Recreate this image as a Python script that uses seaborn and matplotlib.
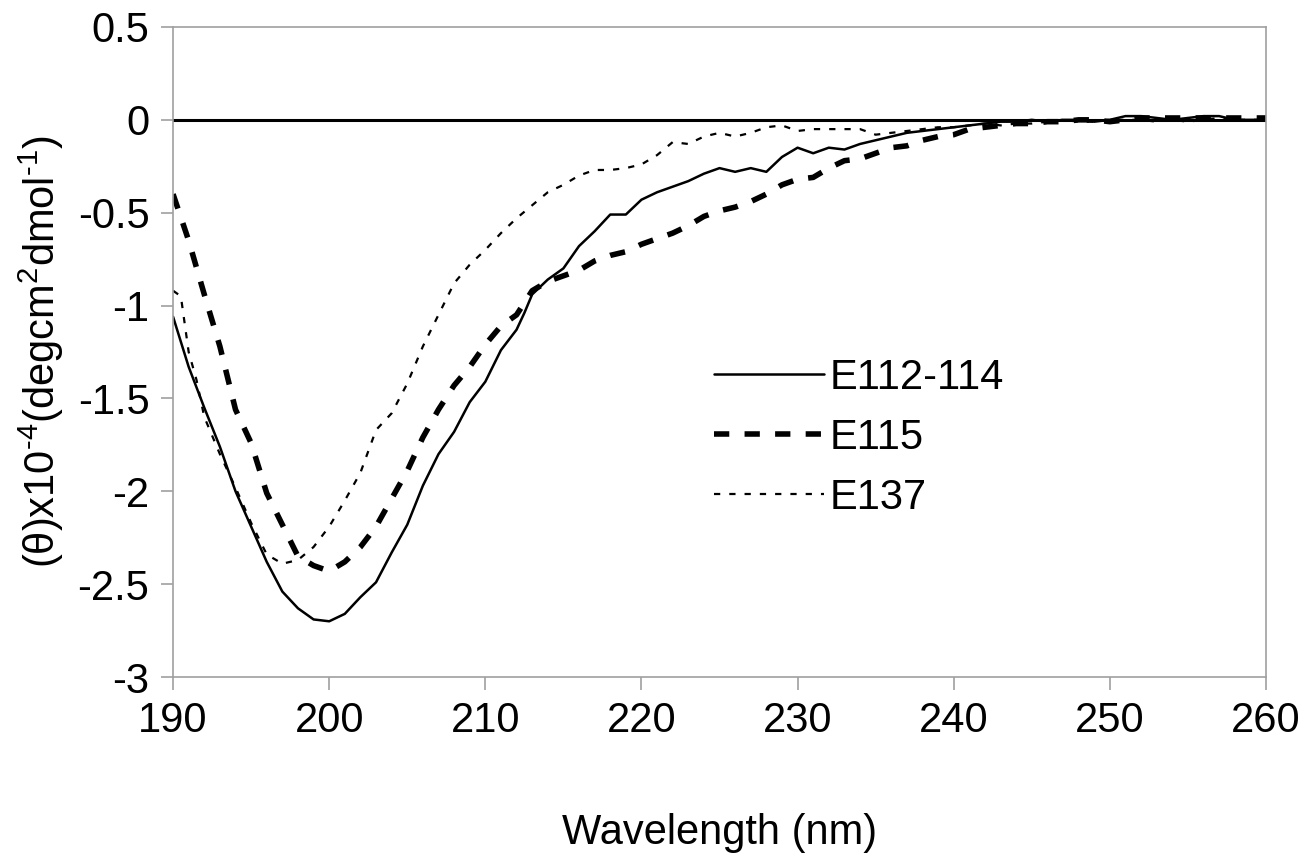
import numpy as np
import pandas as pd
import matplotlib
matplotlib.use("Agg")
import matplotlib.pyplot as plt
import seaborn as sns

sns.set_style("white")
plt.rcParams["font.family"] = ["Liberation Sans", "DejaVu Sans"]
plt.rcParams["axes.unicode_minus"] = False
plt.rcParams["lines.scale_dashes"] = False
plt.rcParams["mathtext.fontset"] = "custom"
plt.rcParams["mathtext.rm"] = "Liberation Sans"
plt.rcParams["mathtext.it"] = "Liberation Sans"
plt.rcParams["text.color"] = "black"
plt.rcParams["axes.labelcolor"] = "black"
plt.rcParams["xtick.labelcolor"] = "black"
plt.rcParams["ytick.labelcolor"] = "black"

# E112-114 (linea continua)
nm_a = [190, 191, 192, 193, 194, 195, 196, 197, 198, 199, 200, 201, 202, 203, 204,
        205, 206, 207, 208, 209, 210, 211, 212, 212.5, 213, 214, 215, 216, 217, 218,
        219, 220, 221, 222, 223, 224, 225, 226, 227, 228, 229, 230, 231, 232, 233,
        234, 235, 236, 237, 238, 239, 240, 241, 242, 243, 244, 245, 246, 247, 248,
        249, 250, 251, 252, 253, 254, 255, 256, 257, 258, 259, 260]
e112 = [-1.06, -1.33, -1.55, -1.76, -2.00, -2.19, -2.38, -2.54, -2.63, -2.69, -2.70,
        -2.66, -2.57, -2.49, -2.33, -2.18, -1.97, -1.80, -1.68, -1.52, -1.41, -1.24,
        -1.13, -1.04, -0.94, -0.86, -0.80, -0.68, -0.60, -0.51, -0.51, -0.43, -0.39,
        -0.36, -0.33, -0.29, -0.26, -0.28, -0.26, -0.28, -0.20, -0.15, -0.18, -0.15,
        -0.16, -0.13, -0.11, -0.09, -0.07, -0.06, -0.05, -0.04, -0.03, -0.02, -0.01,
        -0.01, 0.0, -0.01, 0.0, 0.0, -0.01, 0.0, 0.02, 0.02, 0.01, 0.0, 0.01, 0.02,
        0.02, 0.0, 0.0, 0.0]

# E115 (guiones gruesos)
nm_b = list(range(190, 261))
e115 = [-0.40, -0.65, -0.94, -1.22, -1.56, -1.74, -2.01, -2.18, -2.35, -2.40, -2.43,
        -2.38, -2.30, -2.19, -2.04, -1.89, -1.71, -1.56, -1.43, -1.33, -1.21, -1.11,
        -1.05, -0.92, -0.87, -0.84, -0.81, -0.76, -0.73, -0.71, -0.67, -0.64, -0.61,
        -0.57, -0.52, -0.49, -0.47, -0.44, -0.40, -0.35, -0.32, -0.31, -0.26, -0.22,
        -0.21, -0.18, -0.15, -0.14, -0.11, -0.09, -0.08, -0.05, -0.04, -0.03, -0.02,
        -0.02, -0.01, -0.01, 0.0, 0.0, -0.01, 0.0, 0.01, 0.01, 0.01, 0.01, 0.01,
        0.01, 0.01, 0.01, 0.01]

# E137 (punteado fino)
nm_c = [190, 190.5, 191, 191.5, 192, 193, 194, 195, 196, 197, 198, 199, 200, 201,
        202, 203, 204, 205, 206, 207, 208, 209, 210, 211, 212, 213, 214, 215, 216,
        217, 218, 219, 220, 221, 222, 223, 224, 225, 226, 227, 228, 229, 230, 231,
        232, 233, 234, 235, 236, 237, 238, 239, 240, 241, 242, 243, 244, 245, 246,
        247, 248, 249, 250, 251, 252, 253, 254, 255, 256, 257, 258, 259, 260]
e137 = [-0.92, -0.95, -1.25, -1.40, -1.60, -1.80, -1.98, -2.17, -2.34, -2.39, -2.37,
        -2.30, -2.19, -2.05, -1.90, -1.67, -1.58, -1.42, -1.22, -1.05, -0.88, -0.78,
        -0.70, -0.61, -0.53, -0.46, -0.39, -0.35, -0.30, -0.27, -0.27, -0.26, -0.24,
        -0.19, -0.12, -0.13, -0.09, -0.07, -0.09, -0.07, -0.04, -0.03, -0.06, -0.05,
        -0.05, -0.05, -0.05, -0.08, -0.07, -0.06, -0.05, -0.04, -0.04, -0.03, -0.02,
        -0.03, -0.02, -0.02, -0.01, 0.0, -0.01, -0.01, 0.0, 0.0, 0.0, -0.01, 0.0,
        -0.01, 0.0, 0.01, 0.0, 0.0, 0.0]

x_ticks = [190, 200, 210, 220, 230, 240, 250, 260]
y_ticks = [-3, -2.5, -2, -1.5, -1, -0.5, 0, 0.5]
y_labels = ["-3", "-2.5", "-2", "-1.5", "-1", "-0.5", "0", "0.5"]

fig = plt.figure(figsize=(13.16, 8.56), dpi=100)
ax = fig.add_axes([0.1315, 0.2091, 0.8305, 0.7594])

ax.axhline(0, color="black", lw=2.2, zorder=1)

sns.lineplot(x=nm_a, y=e112, ax=ax, color="black", lw=1.8, label="E112-114")
sns.lineplot(x=nm_b, y=e115, ax=ax, color="black", lw=4.0, label="E115").lines[-1].set_dashes([11, 11])
sns.lineplot(x=nm_c, y=e137, ax=ax, color="black", lw=1.6, label="E137").lines[-1].set_dashes([4.5, 6.5])

ax.set_xlim(190, 260)
ax.set_ylim(-3, 0.5)
ax.set_xticks(x_ticks)
ax.set_yticks(y_ticks)
ax.set_yticklabels(y_labels)
ax.tick_params(axis="both", labelsize=30, direction="out", length=9,
               width=1.2, color="#a0a0a0", left=True, bottom=True, pad=8)
for s in ax.spines.values():
    s.set_color("#a0a0a0")
    s.set_linewidth(1.2)

ax.set_xlabel("Wavelength (nm)", fontsize=30, labelpad=52)
ax.set_ylabel(r"(θ)x10$^{\text{-4}}$(degcm$^{\text{2}}$dmol$^{\text{-1}}$)",
              fontsize=30, labelpad=8)

leg = ax.legend(loc="upper left", bbox_to_anchor=(0.480, 0.517), frameon=False,
                fontsize=30, handlelength=2.64, handletextpad=0.12, labelspacing=0.48,
                borderaxespad=0)

fig.savefig("out.png", dpi=100)
